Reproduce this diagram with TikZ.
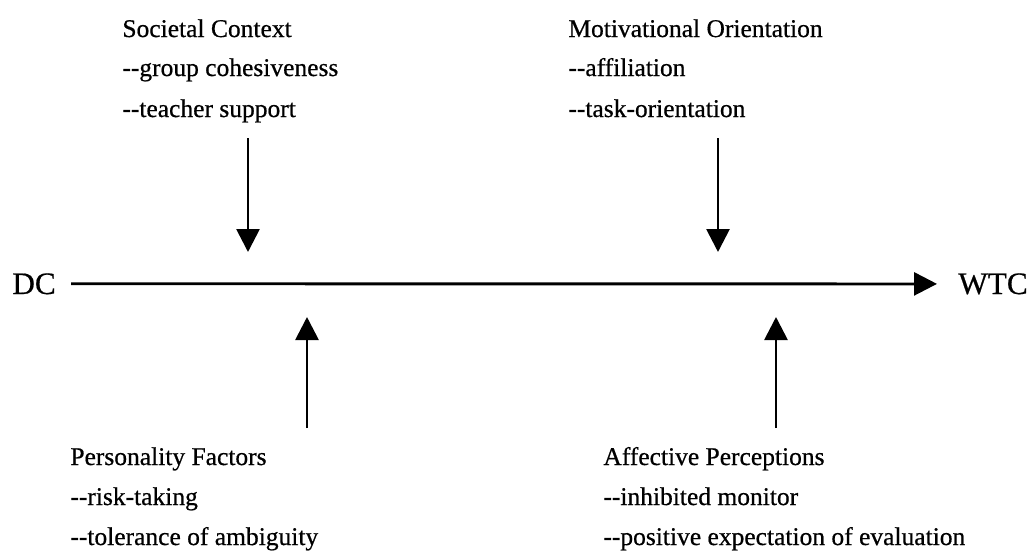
\documentclass[tikz,border=0pt]{standalone}
\usepackage{fontspec}
\setmainfont{Liberation Serif}[FakeBold=0.6]
\usetikzlibrary{arrows.meta}
% two plain hyphens, kept apart so they do not merge into a dash
\newcommand\twohy{-\kern0pt-}
\begin{document}
\begin{tikzpicture}[x=0.5pt,y=-0.5pt,
  lbl/.style={font=\fontsize{12.75pt}{15pt}\selectfont, inner sep=0pt, anchor=base west},
  endpt/.style={font=\fontsize{15.6pt}{18pt}\selectfont, inner sep=0pt, anchor=base west},
  arr/.style={line width=1.4pt, -{Triangle[length=11.5pt,width=11.5pt]}}]
\useasboundingbox (0,0) rectangle (1030,552);

% main path
\node[endpt] (dc)  at (12,294)  {DC};
\node[endpt] (wtc) at (958,294) {WTC};
\draw[arr, shorten <=7.5pt, shorten >=10.5pt] (dc.east) -- (wtc.west);

% upper factor blocks
\node[lbl] (soc)  at (122,37)  {Societal Context};
\node[lbl] (soc1) at (122,76)  {\twohy group cohesiveness};
\node[lbl] (soc2) at (122,117) {\twohy teacher support};

\node[lbl] (mot)  at (568,37)  {Motivational Orientation};
\node[lbl] (mot1) at (568,76)  {\twohy affiliation};
\node[lbl] (mot2) at (568,117) {\twohy task-orientation};

% lower factor blocks
\node[lbl] (per)  at (70,465) {Personality Factors};
\node[lbl] (per1) at (70,505) {\twohy risk-taking};
\node[lbl] (per2) at (70,545) {\twohy tolerance of ambiguity};

\node[lbl] (aff)  at (603,465) {Affective Perceptions};
\node[lbl] (aff1) at (603,505) {\twohy inhibited monitor};
\node[lbl] (aff2) at (603,545) {\twohy positive expectation of evaluation};

% arrow end points
\coordinate (socT) at (248,138);
\coordinate (socB) at (248,252);
\coordinate (motT) at (718,138);
\coordinate (motB) at (718,252);
\coordinate (perB) at (307,428);
\coordinate (perT) at (307,317);
\coordinate (affB) at (776,428);
\coordinate (affT) at (776,317);

\draw[arr] (socT) -- (socB);
\draw[arr] (motT) -- (motB);
\draw[arr] (perB) -- (perT);
\draw[arr] (affB) -- (affT);
\end{tikzpicture}
\end{document}
